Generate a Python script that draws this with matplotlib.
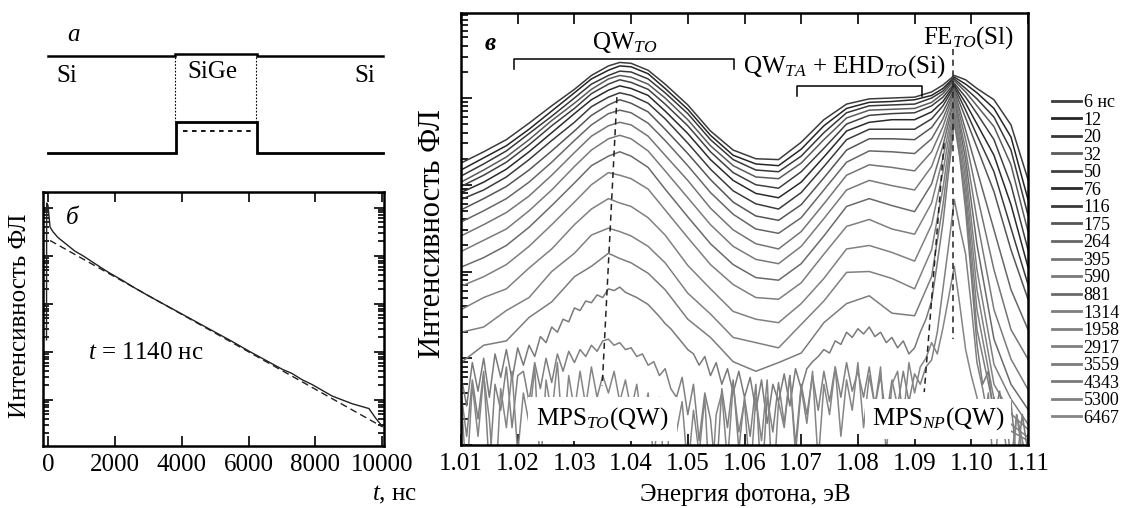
import numpy as np
import matplotlib
matplotlib.use("Agg")
import matplotlib.pyplot as plt

plt.rcParams['font.family'] = ['Liberation Serif', 'DejaVu Serif']
plt.rcParams['mathtext.fontset'] = 'custom'
plt.rcParams['mathtext.rm'] = 'Liberation Serif'
plt.rcParams['mathtext.it'] = 'Liberation Serif:italic'

# --- panel а: band scheme (Si / SiGe / Si)
cb_x = [48, 175, 175, 257, 257, 383]
cb_y = [56, 56, 54, 54, 56, 56]
vb_x = [48, 176, 176, 257, 257, 383]
vb_y = [153, 153, 122, 122, 153, 153]
level_x = [183, 253]
level_y = [131, 131]
well_edges = [175, 256]

# --- panel б: PL decay (log10 of intensity)
decay_t = [-45, -40, 0, 60, 150, 300, 570, 800, 1050, 1400, 1800, 2200, 2600, 3000,
           3500, 4000, 4500, 5000, 5500, 6000, 6500, 7000, 7300, 7600, 7900, 8200,
           8500, 8800, 9100, 9400, 9600, 9800, 10000]
decay_log = [2.25, 5.10, 5.05, 4.60, 4.50, 4.38, 4.23, 4.10, 4.00, 3.84, 3.66, 3.50,
             3.33, 3.17, 2.98, 2.79, 2.60, 2.41, 2.22, 2.02, 1.83, 1.64, 1.55, 1.42,
             1.32, 1.20, 1.08, 1.00, 0.92, 0.86, 0.82, 0.62, 0.45]
fit_t = [60, 10000]
fit_log = [4.32, 0.44]

# --- panel в: time resolved spectra (log10 of intensity)
energy = [1.010, 1.014, 1.018, 1.022, 1.026, 1.030, 1.033, 1.036, 1.038, 1.040, 1.043,
          1.046, 1.050, 1.054, 1.058, 1.062, 1.066, 1.070, 1.074, 1.078, 1.082, 1.086,
          1.090, 1.093, 1.095, 1.097, 1.099, 1.101, 1.104, 1.107, 1.110]

s6 = [3.25, 3.38, 3.52, 3.71, 3.91, 4.10, 4.26, 4.37, 4.41, 4.40, 4.32, 4.16, 3.92, 3.62, 3.40, 3.30,
      3.29, 3.49, 3.75, 3.93, 3.99, 4.00, 4.01, 4.07, 4.15, 4.26, 4.21, 4.11, 3.98, 3.69, 3.06]
s12 = [3.17, 3.31, 3.45, 3.64, 3.85, 4.06, 4.22, 4.32, 4.37, 4.36, 4.28, 4.11, 3.87, 3.57, 3.34, 3.24,
       3.22, 3.41, 3.68, 3.88, 3.95, 3.96, 3.98, 4.03, 4.11, 4.24, 4.16, 4.06, 3.88, 3.55, 2.83]
s20 = [3.10, 3.24, 3.39, 3.59, 3.79, 4.00, 4.16, 4.26, 4.31, 4.30, 4.22, 4.06, 3.82, 3.52, 3.29, 3.17,
       3.15, 3.33, 3.60, 3.83, 3.91, 3.92, 3.93, 4.00, 4.08, 4.22, 4.11, 3.99, 3.78, 3.40, 2.65]
s32 = [3.03, 3.17, 3.32, 3.52, 3.74, 3.94, 4.10, 4.22, 4.26, 4.24, 4.16, 4.00, 3.75, 3.45, 3.22, 3.09,
       3.07, 3.25, 3.52, 3.77, 3.86, 3.87, 3.88, 3.95, 4.05, 4.20, 4.07, 3.91, 3.67, 3.23, 2.46]
s50 = [2.98, 3.11, 3.26, 3.46, 3.68, 3.88, 4.05, 4.16, 4.21, 4.18, 4.10, 3.93, 3.68, 3.38, 3.14, 3.00,
       2.96, 3.15, 3.42, 3.70, 3.80, 3.82, 3.83, 3.91, 4.01, 4.17, 4.01, 3.82, 3.52, 3.00, 2.25]
s76 = [2.91, 3.03, 3.18, 3.38, 3.60, 3.82, 3.98, 4.09, 4.14, 4.11, 4.03, 3.85, 3.59, 3.29, 3.05, 2.90,
       2.85, 3.03, 3.32, 3.62, 3.72, 3.75, 3.75, 3.84, 3.96, 4.15, 3.94, 3.70, 3.34, 2.77, 2.05]
s116 = [2.83, 2.94, 3.09, 3.29, 3.51, 3.72, 3.90, 4.01, 4.06, 4.03, 3.94, 3.76, 3.48, 3.18, 2.93, 2.78,
        2.72, 2.91, 3.21, 3.52, 3.64, 3.64, 3.64, 3.76, 3.91, 4.13, 3.86, 3.57, 3.15, 2.50, 1.85]
s175 = [2.71, 2.84, 2.98, 3.17, 3.39, 3.62, 3.80, 3.92, 3.98, 3.94, 3.84, 3.64, 3.36, 3.06, 2.80, 2.64,
        2.59, 2.77, 3.08, 3.40, 3.53, 3.53, 3.52, 3.66, 3.84, 4.10, 3.77, 3.43, 2.92, 2.25, 1.68]
s264 = [2.57, 2.70, 2.84, 3.03, 3.26, 3.51, 3.69, 3.82, 3.86, 3.83, 3.71, 3.51, 3.22, 2.91, 2.66, 2.49,
        2.44, 2.62, 2.94, 3.26, 3.39, 3.38, 3.36, 3.53, 3.76, 4.08, 3.63, 3.17, 2.48, 1.79, 1.33]
s395 = [2.41, 2.54, 2.68, 2.87, 3.11, 3.37, 3.56, 3.68, 3.72, 3.69, 3.56, 3.34, 3.05, 2.73, 2.48, 2.32,
        2.26, 2.46, 2.78, 3.11, 3.23, 3.20, 3.16, 3.38, 3.67, 4.06, 3.52, 2.89, 2.02, 1.33, 0.99]
s590 = [2.23, 2.36, 2.49, 2.70, 2.94, 3.21, 3.40, 3.53, 3.57, 3.53, 3.39, 3.16, 2.85, 2.54, 2.29, 2.14,
        2.09, 2.29, 2.61, 2.94, 3.05, 2.99, 2.94, 3.21, 3.56, 4.02, 3.40, 2.60, 1.56, 0.99, 0.64]
s881 = [2.05, 2.16, 2.30, 2.51, 2.76, 3.02, 3.22, 3.33, 3.38, 3.33, 3.20, 2.95, 2.63, 2.32, 2.08, 1.93,
        1.90, 2.09, 2.41, 2.75, 2.84, 2.76, 2.69, 3.01, 3.45, 3.99, 3.29, 2.31, 1.22, 0.70, 0.41]
s1314 = [1.83, 1.94, 2.08, 2.29, 2.54, 2.80, 3.00, 3.14, 3.11, 3.07, 2.95, 2.71, 2.39, 2.08, 1.85, 1.70,
         1.68, 1.87, 2.20, 2.52, 2.60, 2.49, 2.43, 2.79, 3.31, 3.95, 3.17, 2.02, 0.93, 0.53, 0.24]
s1958 = [1.56, 1.70, 1.80, 2.04, 2.26, 2.54, 2.72, 2.84, 2.79, 2.75, 2.62, 2.42, 2.07, 1.80, 1.54, 1.45,
         1.41, 1.63, 1.92, 2.26, 2.30, 2.22, 2.12, 2.54, 3.15, 3.91, 3.06, 1.79, 0.70, 0.36, 0.18]
s2917 = [1.30, 1.36, 1.55, 1.70, 2.00, 2.21, 2.42, 2.50, 2.46, 2.41, 2.29, 2.10, 1.75, 1.51, 1.24, 1.18,
         1.12, 1.39, 1.66, 1.99, 2.00, 1.92, 1.80, 2.25, 2.96, 3.86, 2.94, 1.56, 0.53, 0.24, 0.09]
s3559 = [0.95, 1.15, 1.20, 1.47, 1.65, 1.94, 2.06, 2.21, 2.15, 2.10, 1.98, 1.79, 1.45, 1.24, 0.96, 0.85,
         0.95, 1.06, 1.41, 1.63, 1.72, 1.52, 1.49, 1.94, 2.77, 3.80, 2.83, 1.33, 0.41, 0.16, 0.05]

energy_fine = np.linspace(1.010, 1.110, 101)
s4343 = [0.80, 0.45, 0.95, 0.62, 1.00, 0.55, 1.05, 0.78, 1.10, 0.75, 1.12,
         0.92, 1.15, 1.02, 1.25, 1.18, 1.36, 1.30, 1.45, 1.42, 1.58,
         1.55, 1.66, 1.64, 1.73, 1.70, 1.80, 1.78, 1.82, 1.76, 1.73,
         1.70, 1.66, 1.62, 1.55, 1.48, 1.40, 1.34, 1.26, 1.18, 1.10,
         1.05, 0.92, 1.02, 0.80, 0.95, 0.70, 0.88, 0.60, 0.85, 0.55,
         0.78, 0.40, 0.75, 0.25, 0.70, 0.50, 0.82, 0.45, 0.88, 0.65,
         0.88, 0.96, 1.02, 1.10, 1.06, 1.20, 1.16, 1.30, 1.24, 1.34,
         1.28, 1.36, 1.25, 1.30, 1.18, 1.24, 1.12, 1.20, 1.05, 1.12,
         1.30, 1.45, 1.66, 2.10, 2.56, 3.15, 3.72, 3.30, 2.70, 1.95,
         1.16, 0.70, 0.85, 0.30, 0.62, 0.10, 0.50, -0.20, 0.35, -0.10]
s5300 = [0.60, 0.10, 0.75, 0.30, 0.85, -0.30, 0.70, 0.40, 0.90, 0.20, 0.80,
         0.85, 0.50, 0.95, 0.65, 1.00, 0.72, 1.05, 0.85, 1.08, 0.95,
         1.10, 1.02, 1.15, 1.08, 1.20, 1.22, 1.15, 1.18, 1.10, 1.12,
         1.02, 1.05, 0.92, 0.96, 0.80, 0.88, 0.65, 0.55, 0.78, 0.35,
         0.70, 0.05, 0.60, 0.30, -0.40, 0.65, 0.20, 0.75, -0.05, 0.55,
         0.10, 0.70, -0.50, 0.55, 0.15, 0.72, 0.25, 0.80, 0.00, 0.70,
         0.35, 0.80, 0.40, 0.85, 0.50, 0.90, 0.55, 0.95, 0.62, 0.85,
         0.55, 0.90, 0.45, 0.80, 0.30, 0.75, 0.45, 0.85, 0.50, 0.82,
         0.70, 0.90, 0.98, 1.30, 1.80, 2.30, 2.83, 2.50, 2.20, 1.60,
         0.95, 0.65, 0.30, 0.55, 0.15, 0.45, -0.20, 0.35, 0.05, -0.20]
s6467 = [0.55, -0.40, 0.70, 0.10, 0.80, 0.30, -0.60, 0.65, 0.20, 0.85, -0.10,
         0.60, 0.25, 0.90, -0.30, 0.75, 0.35, 0.95, 0.05, 0.80, 0.40,
         0.85, 0.45, 0.90, 0.55, 0.80, 0.60, 0.85, 0.50, 0.75, 0.40,
         0.70, 0.20, 0.60, -0.20, 0.55, -0.50, 0.45, 0.15, 0.50, -0.30,
         0.40, -0.10, 0.55, -0.70, 0.35, 0.60, -0.20, 0.70, 0.15, 0.50,
         -0.40, 0.55, 0.05, 0.75, -0.60, 0.50, 0.20, 0.80, -0.10, 0.65,
         0.25, 0.85, -0.20, 0.70, 0.35, 0.90, 0.10, 0.75, 0.40, 0.95,
         0.20, 0.80, 0.45, 0.90, -0.10, 0.70, 0.85, 0.30, 0.95, 0.60,
         0.90, 1.00, 1.18, 1.05, 1.35, 1.70, 2.06, 1.60, 1.10, 0.80,
         0.55, 0.10, 0.60, -0.40, 0.45, 0.05, -0.50, 0.35, -0.10, -0.40]

delay_labels = ["6 нс", "12", "20", "32", "50", "76", "116", "175", "264", "395",
                "590", "881", "1314", "1958", "2917", "3559", "4343", "5300", "6467"]
curve_colors = ["#3c3c3c", "#262626", "#383838", "#5a5a5a", "#404040", "#2a2a2a", "#3a3a3a",
                "#555555", "#666666", "#747474", "#7a7a7a", "#6a6a6a", "#7e7e7e", "#808080",
                "#808080", "#7c7c7c", "#7a7a7a", "#808080", "#858585"]

coarse = [s6, s12, s20, s32, s50, s76, s116, s175, s264, s395, s590, s881, s1314,
          s1958, s2917, s3559]
fine = [s4343, s5300, s6467]

fig = plt.figure(figsize=(11.29, 5.08), dpi=100)

# ---------- panel а
ax_a = fig.add_axes([0, 1 - 172 / 508, 420 / 1129, 172 / 508])
ax_a.set_xlim(0, 420)
ax_a.set_ylim(172, 0)
ax_a.axis('off')
ax_a.plot(cb_x, cb_y, color='black', lw=1.8, solid_joinstyle='miter')
ax_a.plot(vb_x, vb_y, color='black', lw=2.0, solid_joinstyle='miter')
ax_a.plot(level_x, level_y, color='black', lw=1.3, ls=(0, (2.5, 2.5)))
for xe in well_edges:
    ax_a.plot([xe, xe], [57, 121], color='black', lw=0.8, ls=(0, (1.5, 1.5)))
ax_a.text(73, 35, "а", fontsize=18, style='italic', ha='center', va='center')
ax_a.text(56, 76, "Si", fontsize=18, ha='left', va='center')
ax_a.text(212, 72, "SiGe", fontsize=18, ha='center', va='center')
ax_a.text(375, 76, "Si", fontsize=18, ha='right', va='center')

# ---------- panel б
ax_b = fig.add_axes([43 / 1129, 62 / 508, 341 / 1129, 254 / 508])
ax_b.plot(decay_t, 10 ** np.array(decay_log), color='#222222', lw=1.0)
ax_b.plot(fit_t, 10 ** np.array(fit_log), color='#222222', lw=1.0, ls=(0, (5, 3)))
ax_b.set_yscale('log')
ax_b.set_ylim(10 ** 0.04, 10 ** 5.33)
ax_b.set_xlim(-150, 10050)
ax_b.set_xticks([0, 2000, 4000, 6000, 8000, 10000])
ax_b.tick_params(axis='both', which='both', direction='in', top=True, right=True, width=1.2)
ax_b.tick_params(axis='both', which='major', length=7, labelsize=18)
ax_b.tick_params(axis='y', which='minor', length=4)
ax_b.tick_params(axis='y', which='both', labelleft=False)
ax_b.tick_params(axis='x', pad=6)
for sp in ax_b.spines.values():
    sp.set_linewidth(1.8)
ax_b.text(720, 10 ** 4.79, "б", fontsize=18, style='italic', ha='center', va='center')
ax_b.text(1200, 10 ** 1.98, "$t$ = 1140 нс", fontsize=18, ha='left', va='center')
fig.text(417 / 1129, 1 - 495 / 508, "$t$, нс", fontsize=18, ha='right', va='center')
fig.text(20 / 1129, 1 - 316 / 508, "Интенсивность ФЛ", fontsize=18, rotation=90,
         ha='center', va='center')

# ---------- panel в
ax_c = fig.add_axes([461 / 1129, 63 / 508, 567 / 1129, 432 / 508])
lines = []
for s, c in zip(coarse, curve_colors[:16]):
    ln, = ax_c.plot(energy, 10 ** np.array(s), color=c, lw=1.1)
    lines.append(ln)
for s, c in zip(fine, curve_colors[16:]):
    ln, = ax_c.plot(energy_fine, 10 ** np.array(s), color=c, lw=1.1)
    lines.append(ln)
ax_c.set_yscale('log')
ax_c.set_ylim(1, 10 ** 4.98)
ax_c.set_xlim(1.01, 1.11)
ax_c.set_xticks(np.arange(1.01, 1.1101, 0.01))
ax_c.set_xticklabels(["%.2f" % v for v in np.arange(1.01, 1.1101, 0.01)])
ax_c.tick_params(axis='both', which='both', direction='in', top=True, right=False, width=1.2)
ax_c.tick_params(axis='both', which='major', length=8, labelsize=18)
ax_c.tick_params(axis='y', which='minor', length=5)
ax_c.tick_params(axis='y', which='both', labelleft=False)
ax_c.tick_params(axis='x', pad=6)
for sp in ax_c.spines.values():
    sp.set_linewidth(1.8)

# annotations
ax_c.plot([1.0375, 1.0349], [10 ** 4.01, 10 ** 0.68], color='#222222', lw=1.1, ls=(0, (4, 3)))
ax_c.plot([1.0968, 1.0968], [10 ** 4.57, 10 ** 1.22], color='#222222', lw=1.1, ls=(0, (4, 3)))
ax_c.plot([1.0952, 1.0917], [10 ** 3.48, 10 ** 0.61], color='#222222', lw=1.1, ls=(0, (4, 3)))
ax_c.plot([1.0194, 1.0194, 1.0582, 1.0582], [10 ** 4.34, 10 ** 4.45, 10 ** 4.45, 10 ** 4.34],
          color='black', lw=1.1)
ax_c.plot([1.0693, 1.0693, 1.0913, 1.0913], [10 ** 4.02, 10 ** 4.14, 10 ** 4.14, 10 ** 4.02],
          color='black', lw=1.1)
ax_c.text(1.0151, 10 ** 4.63, "в", fontsize=18, style='italic', weight='bold',
          ha='center', va='center')
ax_c.text(1.0389, 10 ** 4.64, r"QW$_{\mathit{TO}}$", fontsize=18, ha='center', va='center')
ax_c.text(1.0597, 10 ** 4.36, r"QW$_{\mathit{TA}}$ + EHD$_{\mathit{TO}}$(Si)", fontsize=18,
          ha='left', va='center')
ax_c.text(1.0994, 10 ** 4.70, r"FE$_{\mathit{TO}}$(Sl)", fontsize=18, ha='center', va='center')
ax_c.text(1.0349, 10 ** 0.30, r"MPS$_{\mathit{TO}}$(QW)", fontsize=18, ha='center', va='center',
          zorder=5, bbox=dict(facecolor='white', edgecolor='none', pad=6))
ax_c.text(1.0941, 10 ** 0.30, r"MPS$_{\mathit{NP}}$(QW)", fontsize=18, ha='center', va='center',
          zorder=5, bbox=dict(facecolor='white', edgecolor='none', pad=5))

fig.text(745 / 1129, 1 - 495 / 508, "Энергия фотона, эВ", fontsize=18, ha='center', va='center')
fig.text(433 / 1129, 1 - 234 / 508, "Интенсивность ФЛ", fontsize=22, rotation=90,
         ha='center', va='center')

leg = fig.legend(lines, delay_labels, loc='upper left', bbox_to_anchor=(1052 / 1129, 1 - 94 / 508),
                 frameon=False, fontsize=13, labelspacing=0.03, handlelength=1.6,
                 handletextpad=0.15, borderpad=0, borderaxespad=0)
for h in leg.get_lines():
    h.set_linewidth(2.0)

fig.savefig("out.png", dpi=100)
